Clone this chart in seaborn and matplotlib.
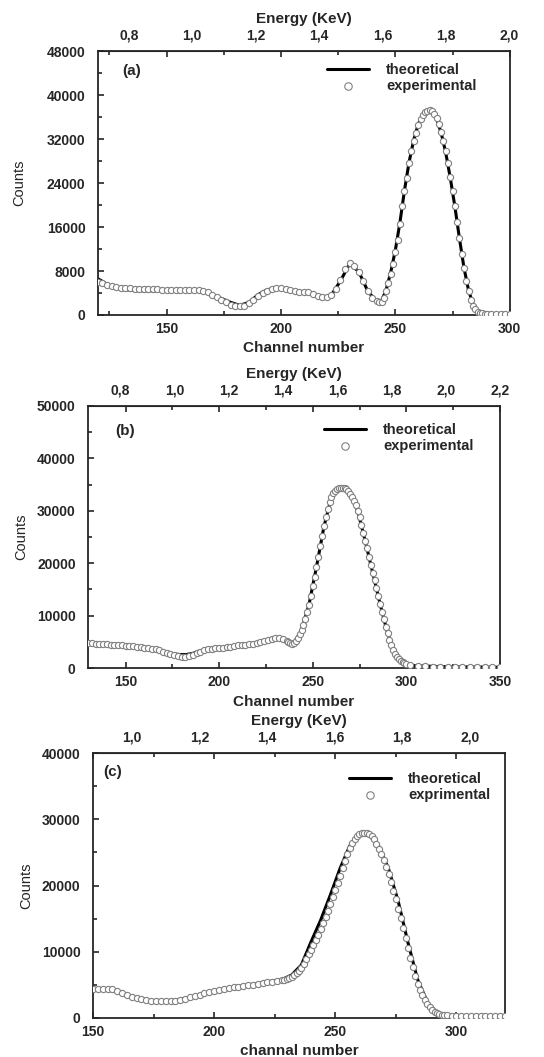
import seaborn as sns
import matplotlib.pyplot as plt
import matplotlib.ticker as mt
import numpy as np

# ---------- panel (a) ----------
ch_a = np.r_[np.arange(120, 243, 2), np.arange(243, 291), np.arange(292, 301, 2)]
exp_a = [6000, 5800, 5500, 5300, 5100, 5000, 4900, 4850, 4800, 4750, 4700, 4700, 4650, 4650, 4600, 4600,
         4600, 4600, 4600, 4600, 4550, 4550, 4500, 4350, 4100, 3700, 3300, 2800, 2300, 1900, 1650, 1550,
         1700, 2100, 2700, 3400, 4000, 4400, 4700, 4850, 4850, 4750, 4600, 4300, 4200, 4150, 4100, 3800,
         3400, 3200, 3250, 3700, 4700, 6300, 8300, 9400, 9000, 7900, 6200, 4300, 3100, 2500,
         2300, 2400, 3100, 4300, 5800, 7400, 9300, 11400, 13700, 16500, 19800, 22500, 25000, 27600,
         29800, 31600, 33200, 34600, 35600, 36400, 36900, 37200, 37300, 37100, 36600, 35800, 34700,
         33300, 31700, 29800, 27600, 25200, 22600, 19900, 17000, 14000, 11100, 8500, 6200, 4300, 2800,
         1700, 1000, 600, 400, 300, 250, 200,
         200, 180, 170, 160, 150]
th_ch_a = [120, 124, 128, 132, 136, 140, 148, 156, 162, 166, 170, 174, 178, 182, 186, 190, 194, 198,
           202, 206, 210, 214, 218, 222, 226, 230, 234, 238, 242, 244, 246, 248, 250, 252, 254, 256,
           258, 260, 262, 264, 266, 268, 270, 272, 274, 276, 278, 280, 282, 284, 286, 290, 300]
th_a = [6600, 5600, 4900, 4600, 4450, 4400, 4400, 4450, 4450, 4300, 3700, 3000, 2300, 1750, 2300, 3700,
        4600, 4900, 4800, 4400, 4150, 3900, 3200, 3600, 6200, 9300, 7900, 4300, 2400, 2600, 4600, 7800,
        11800, 16800, 22700, 27800, 31800, 34700, 36500, 37200, 37000, 35700, 33200, 29600, 25000,
        19800, 14000, 8600, 4500, 1900, 700, 250, 150]

# ---------- panel (b) ----------
ch_b = np.r_[np.arange(130, 237, 2), np.arange(237, 301), np.arange(302, 351, 4)]
exp_b = [4750, 4700, 4650, 4600, 4550, 4500, 4450, 4420, 4350, 4300, 4250, 4200, 4150, 4100, 4000, 3900,
         3800, 3700, 3550, 3350, 3100, 2850, 2600, 2400, 2250, 2150, 2100, 2200, 2450, 2800, 3150, 3400,
         3600, 3700, 3750, 3800, 3900, 4000, 4100, 4200, 4300, 4350, 4450, 4550, 4600, 4750, 4900, 5100,
         5350, 5550, 5750, 5800, 5600, 5200,
         5000, 4750, 4650, 4800, 5200, 5800, 6500, 7200, 8200, 9300, 10600, 12100, 13800, 15600, 17400,
         19300, 21200, 23200, 25100, 27000, 28800, 30300, 31600, 32600, 33300, 33800, 34100, 34300,
         34400, 34400, 34300, 34100, 33700, 33200, 32600, 31900, 31100, 30000, 28800, 27300, 25800,
         24300, 22800, 21200, 19700, 18200, 16700, 15200, 13700, 12200, 10700, 9300, 7900, 6600, 5400,
         4300, 3400, 2700, 2100, 1700, 1400, 1150, 950, 800,
         600, 400, 320, 280, 260, 240, 220, 200, 190, 180, 170, 160, 150]
th_ch_b = [130, 140, 150, 160, 166, 172, 178, 182, 186, 190, 196, 204, 212, 220, 226, 232, 236, 240,
           244, 248, 252, 256, 260, 264, 267, 270, 274, 278, 282, 286, 290, 294, 298, 304, 320, 350]
th_b = [4750, 4500, 4250, 3900, 3500, 2950, 2600, 2550, 2800, 3300, 3700, 4000, 4350, 4750, 5350, 5800,
        5200, 4800, 7200, 12100, 19300, 27000, 32600, 34300, 34400, 33200, 30000, 24300, 18200, 12200,
        6600, 2700, 1150, 450, 250, 150]

# ---------- panel (c) ----------
ch_c = np.r_[np.arange(150, 229, 2), np.arange(229, 297), np.arange(298, 321, 2)]
exp_c = [4400, 4400, 4400, 4400, 4350, 4100, 3800, 3500, 3200, 3000, 2850, 2700, 2600, 2550, 2500, 2500,
         2500, 2600, 2750, 2900, 3100, 3300, 3500, 3700, 3900, 4050, 4200, 4350, 4500, 4650, 4750, 4850,
         4950, 5050, 5200, 5300, 5400, 5450, 5550, 5700,
         5800, 5900, 6050, 6250, 6500, 6800, 7150, 7600, 8200, 8900, 9600, 10300, 11000, 11800, 12600,
         13400, 14300, 15200, 16100, 17200, 18200, 19300, 20400, 21500, 22600, 23700, 24700, 25600,
         26400, 27000, 27500, 27800, 28000, 28000, 27950, 27800, 27500, 27000, 26300, 25500, 24700,
         23800, 22800, 21700, 20500, 19200, 17900, 16500, 15100, 13600, 12100, 10600, 9100, 7700, 6400,
         5200, 4200, 3400, 2700, 2100, 1650, 1250, 950, 700, 550, 450, 400, 380,
         350, 330, 320, 310, 300, 290, 280, 270, 260, 255, 250, 250]
th_ch_c = [150, 158, 166, 174, 182, 190, 200, 210, 220, 228, 232, 236, 240, 244, 248, 252, 256, 260,
           262, 264, 268, 272, 276, 280, 284, 288, 292, 296, 304, 320]
th_c = [4400, 4350, 3200, 2600, 2500, 3100, 4050, 4750, 5300, 5800, 6500, 8000, 11500, 14800, 18600,
        22600, 26000, 27700, 27900, 27700, 25900, 22500, 17600, 11400, 5800, 2400, 800, 400, 320, 250]

sns.set_style('ticks')
plt.rcParams['font.family'] = ['Liberation Sans', 'DejaVu Sans']
plt.rcParams['font.weight'] = 'bold'

fig = plt.figure(figsize=(5.44, 10.57), dpi=100)

panels = [
    dict(rect=[0.180, 0.702, 0.757, 0.2495], ch=ch_a, exp=exp_a, tch=th_ch_a, th=th_a,
         xlim=(120, 300), ylim=(0, 48000), ystep=8000, xlab='Channel number',
         e0=0.8, c0=133.5, slope=0.00721, eticks=[0.8, 1.0, 1.2, 1.4, 1.6, 1.8, 2.0],
         tag='(a)', tagpos=(0.058, 0.924), exlab='experimental', ylx=-0.175, leg=(0.556, 0.955)),
    dict(rect=[0.162, 0.368, 0.757, 0.248], ch=ch_b, exp=exp_b, tch=th_ch_b, th=th_b,
         xlim=(130, 350), ylim=(0, 50000), ystep=10000, xlab='Channel number',
         e0=0.8, c0=147.3, slope=0.006907, eticks=[0.8, 1.0, 1.2, 1.4, 1.6, 1.8, 2.0, 2.2],
         tag='(b)', tagpos=(0.066, 0.905), exlab='experimental', ylx=-0.145, leg=(0.573, 0.935)),
    dict(rect=[0.171, 0.0369, 0.757, 0.2507], ch=ch_c, exp=exp_c, tch=th_ch_c, th=th_c,
         xlim=(150, 320), ylim=(0, 40000), ystep=10000, xlab='channal number',
         e0=1.0, c0=166.1, slope=0.00717, eticks=[1.0, 1.2, 1.4, 1.6, 1.8, 2.0],
         tag='(c)', tagpos=(0.024, 0.928), exlab='exprimental', ylx=-0.145, leg=(0.622, 0.928)),
]

for p in panels:
    ax = fig.add_axes(p['rect'])
    sns.lineplot(x=p['tch'], y=p['th'], color='black', lw=2.2, label='theoretical', ax=ax, zorder=2)
    sns.scatterplot(x=p['ch'], y=p['exp'], marker='o', s=20, facecolor='white', edgecolor='#808080',
                    linewidth=0.8, label=p['exlab'], ax=ax, zorder=3)
    ax.set_xlim(p['xlim'])
    ax.set_ylim(p['ylim'])
    ax.xaxis.set_major_locator(mt.MultipleLocator(50))
    ax.xaxis.set_minor_locator(mt.MultipleLocator(25))
    ax.yaxis.set_major_locator(mt.MultipleLocator(p['ystep']))
    ax.yaxis.set_minor_locator(mt.MultipleLocator(p['ystep'] / 2))
    ax.tick_params(which='both', direction='in', top=True, right=False, labelsize=10, width=1.2)
    ax.tick_params(which='major', length=4)
    ax.tick_params(which='minor', length=3)
    ax.tick_params(axis='y', pad=9)
    ax.tick_params(axis='x', pad=5)
    for s in ax.spines.values():
        s.set_linewidth(1.3)
    ax.set_xlabel(p['xlab'], fontsize=11, fontweight='bold', labelpad=4)
    ax.set_ylabel('Counts', fontsize=10.5, fontweight='normal',
                  family=['Liberation Sans Narrow', 'Liberation Sans'])
    ax.yaxis.set_label_coords(p['ylx'], 0.5)

    e0, c0, k = p['e0'], p['c0'], p['slope']
    sec = ax.secondary_xaxis('top', functions=(lambda c, e0=e0, c0=c0, k=k: e0 + (c - c0) * k,
                                               lambda e, e0=e0, c0=c0, k=k: c0 + (e - e0) / k))
    sec.set_xticks(p['eticks'])
    sec.xaxis.set_major_formatter(mt.FuncFormatter(lambda v, pos: f'{v:.1f}'.replace('.', ',')))
    sec.tick_params(length=0, labelsize=10, pad=6)
    sec.set_xlabel('Energy (KeV)', fontsize=11, fontweight='bold', labelpad=4)

    ax.text(p['tagpos'][0], p['tagpos'][1], p['tag'], transform=ax.transAxes, fontsize=11,
            fontweight='bold', va='center')
    ax.legend(loc='upper left', bbox_to_anchor=p['leg'], frameon=False,
              borderaxespad=0, borderpad=0, handlelength=2.9, handletextpad=1.15,
              labelspacing=0.15, markerscale=1.2, prop={'weight': 'bold', 'size': 10.5})

fig.savefig('out.png', dpi=100)
